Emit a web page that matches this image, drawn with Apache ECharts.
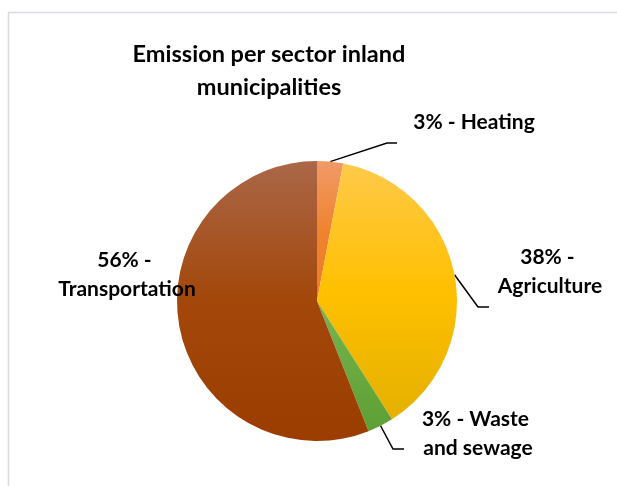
<!DOCTYPE html>
<html>
<head>
<meta charset="utf-8">
<script src="https://cdn.jsdelivr.net/npm/echarts@6/dist/echarts.min.js"></script>
<style>
  html, body { margin: 0; padding: 0; background: #ffffff; }
  #chart { width: 617px; height: 486px; }
</style>
</head>
<body>
<div id="chart"></div>
<script>
// Sector shares of emissions (percent)
const sectors = ['Heating', 'Agriculture', 'Waste and sewage', 'Transportation'];
const shares = [3, 38, 3, 56];

// Vertical gradient stops for each slice: light top, base, darker bottom
const sliceColors = [
  ['#F09A68', '#F0832F', '#EF7A26'],
  ['#FFC94A', '#FFC000', '#E4B000'],
  ['#78B452', '#6AAA40', '#5E9F36'],
  ['#AA6748', '#A3470A', '#9B3D00']
];

// Label placement (text centre) and leader-line elbows
const labelPlacement = [
  { x: 474, y: 122, width: 150, elbow: [[387, 143], [397, 143]] },
  { x: 550, y: 272, width: 120, elbow: [[478, 307], [489, 307]] },
  { x: 478, y: 434, width: 125, elbow: [[393, 449], [404, 449]] },
  { x: 127, y: 275, width: 150, elbow: null }
];

const chart = echarts.init(document.getElementById('chart'), null, { renderer: 'canvas' });

const data = sectors.map((name, i) => ({
  name: name,
  value: shares[i],
  itemStyle: {
    color: new echarts.graphic.LinearGradient(0, 0, 0, 1, [
      { offset: 0, color: sliceColors[i][0] },
      { offset: 0.5, color: sliceColors[i][1] },
      { offset: 1, color: sliceColors[i][2] }
    ])
  },
  label: {
    width: labelPlacement[i].width,
    overflow: 'break'
  },
  labelLine: { show: labelPlacement[i].elbow !== null }
}));

chart.setOption({
  backgroundColor: '#ffffff',
  animation: false,
  graphic: [{
    type: 'rect',
    shape: { x: 8.5, y: 12.5, width: 700, height: 600 },
    style: { fill: 'none', stroke: '#D9DCE1', lineWidth: 1.5 },
    silent: true,
    z: -1
  }],
  title: {
    text: 'Emission per sector inland\nmunicipalities',
    left: 264,
    top: 33,
    textAlign: 'center',
    textStyle: {
      fontFamily: 'Lato',
      fontWeight: 'bold',
      fontSize: 23.5,
      lineHeight: 33,
      color: '#000000'
    }
  },
  series: [{
    type: 'pie',
    center: [317, 301],
    radius: [0, 140],
    startAngle: 90,
    clockwise: true,
    avoidLabelOverlap: false,
    data: data,
    label: {
      show: true,
      position: 'outside',
      formatter: p => p.value + '% - ' + p.name,
      fontFamily: 'Lato',
      fontWeight: 'bold',
      fontSize: 21,
      lineHeight: 29,
      color: '#000000',
      align: 'center'
    },
    labelLine: {
      show: true,
      lineStyle: { color: '#000000', width: 1.5 }
    },
    labelLayout: function (params) {
      const lp = labelPlacement[params.dataIndex];
      const out = {
        x: lp.x,
        y: lp.y,
        align: 'center',
        verticalAlign: 'middle'
      };
      if (lp.elbow && params.labelLinePoints) {
        out.labelLinePoints = [params.labelLinePoints[0], lp.elbow[0], lp.elbow[1]];
      }
      return out;
    },
    emphasis: { disabled: true }
  }]
});
</script>
</body>
</html>
